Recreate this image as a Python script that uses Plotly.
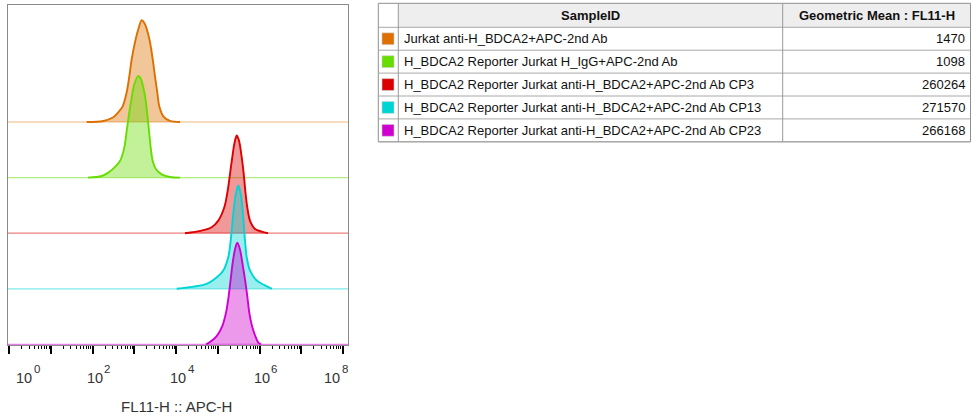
import plotly.graph_objects as go

# ---------------- data ----------------
sample_ids = [
    "Jurkat anti-H_BDCA2+APC-2nd Ab",
    "H_BDCA2 Reporter Jurkat H_IgG+APC-2nd Ab",
    "H_BDCA2 Reporter Jurkat anti-H_BDCA2+APC-2nd Ab CP3",
    "H_BDCA2 Reporter Jurkat anti-H_BDCA2+APC-2nd Ab CP13",
    "H_BDCA2 Reporter Jurkat anti-H_BDCA2+APC-2nd Ab CP23",
]
geo_means = [1470, 1098, 260264, 271570, 266168]
colors = ["#DD7000", "#66DD00", "#DD0000", "#00D5D5", "#D000D0"]

# histogram outlines: log10(FL11-H) and % of mode
orange_log = [1.856, 2.254, 2.494, 2.614, 2.719, 2.815, 2.878, 2.935, 3.014, 3.094, 3.175,
              3.254, 3.319, 3.374, 3.439, 3.494, 3.549, 3.597, 3.693, 3.854, 4.094]
orange_pct = [0, 1, 4.6, 9.5, 15.4, 29.2, 44.9, 61.7, 78.4, 91.2, 100,
              96.1, 88.2, 78.4, 61.7, 44.9, 29.2, 15.4, 5.6, 1, 0]

green_log = [1.887, 2.216, 2.374, 2.518, 2.655, 2.758, 2.815, 2.871, 2.935, 2.998, 3.094,
             3.158, 3.213, 3.261, 3.309, 3.350, 3.391, 3.439, 3.518, 3.655, 3.854, 4.094]
green_pct = [0, 1.6, 4.9, 9.8, 16.3, 29.5, 45.9, 62.3, 78.7, 91.8, 100,
             96.8, 88.6, 78.7, 62.3, 45.9, 29.5, 16.3, 8.2, 3.2, 0.6, 0]

red_log = [4.213, 4.614, 4.854, 5.012, 5.156, 5.237, 5.293, 5.348, 5.396, 5.453,
           5.508, 5.573, 5.621, 5.659, 5.707, 5.772, 5.892, 6.053, 6.204]
red_pct = [0, 2.6, 5.9, 12.4, 25.5, 41.9, 58.4, 74.8, 87.8, 96,
           91.1, 74.8, 58.4, 41.9, 25.5, 12.4, 4.2, 1.5, 0]

cyan_log = [4.014, 4.734, 4.933, 5.132, 5.252, 5.309, 5.348, 5.388, 5.436, 5.492,
            5.549, 5.588, 5.621, 5.652, 5.693, 5.772, 5.933, 6.132, 6.300]
cyan_pct = [0, 4.9, 9.9, 18, 31.2, 47.5, 63.9, 80.4, 93.5, 101.6,
            93.5, 80.4, 63.9, 47.5, 31.2, 18, 8.1, 3.3, 0]

magenta_log = [4.717, 4.813, 4.974, 5.108, 5.197, 5.261, 5.309, 5.357, 5.412, 5.468,
               5.532, 5.588, 5.652, 5.707, 5.755, 5.820, 5.899, 5.971, 6.036]
magenta_pct = [0, 2.3, 8.2, 18, 31.2, 47.5, 63.9, 80.3, 93.4, 100,
               93.4, 80.3, 63.9, 47.5, 31.2, 18, 8.2, 1.7, 0]

series_log = [orange_log, green_log, red_log, cyan_log, magenta_log]
series_pct = [orange_pct, green_pct, red_pct, cyan_pct, magenta_pct]

decades = [0, 1, 2, 3, 4, 5, 6, 7, 8]
labelled_decades = [0, 2, 4, 6, 8]
x_title = "FL11-H :: APC-H"
col_headers = ["SampleID", "Geometric Mean : FL11-H"]

# ---------------- layout constants ----------------
W, H = 972, 418
PL, PR, PT, PB = 8, 348, 5, 345          # plot area in pixels
ROW_STEP = 55.6                          # offset between stacked histograms
SCALE = 1.017                            # y units per % of mode
FONT = "Liberation Sans, Arial, sans-serif"


def rgba(hex_c, a):
    h = hex_c.lstrip("#")
    r, g, b = int(h[0:2], 16), int(h[2:4], 16), int(h[4:6], 16)
    return f"rgba({r},{g},{b},{a})"


def px(x):
    return (x - PL) / (PR - PL)


def py(y):
    return (PB - y) / (PB - PT)


fig = go.Figure()
n = len(series_log)
for i, (lg, pc, c) in enumerate(zip(series_log, series_pct, colors)):
    off = (n - 1 - i) * ROW_STEP
    fig.add_trace(go.Scatter(
        x=[10 ** -0.2, 10 ** 8.4], y=[off, off], mode="lines",
        line=dict(color=rgba(c, 0.5), width=1.2), hoverinfo="skip", showlegend=False))
    fig.add_trace(go.Scatter(
        x=[10 ** v for v in lg], y=[off + p * SCALE for p in pc], mode="lines",
        line=dict(color=c, width=1.9, shape="spline", smoothing=0.9),
        fill="tonexty", fillcolor=rgba(c, 0.4), name=sample_ids[i], showlegend=False))

x0_log = (PL - 9.3) / 41.7
x1_log = (PR - 9.3) / 41.7

fig.update_xaxes(
    type="log", range=[x0_log, x1_log],
    tickvals=[10 ** d for d in decades], ticktext=["" for _ in decades],
    ticks="outside", ticklen=8, tickwidth=2, tickcolor="black",
    minor=dict(ticks="outside", ticklen=3, tickwidth=1, tickcolor="black", dtick="D1"),
    showline=True, linecolor="#8a8a8a", linewidth=1, mirror=True,
    showgrid=False, zeroline=False, layer="below traces", fixedrange=True)
fig.update_yaxes(
    range=[-0.6, PB - PT - 0.6], showticklabels=False, ticks="",
    showline=True, linecolor="#8a8a8a", linewidth=1, mirror=True,
    showgrid=False, zeroline=False, fixedrange=True)

annotations = []
label_shift = {0: 5.7, 8: -19.7}
for d in labelled_decades:
    sh = label_shift.get(d, -7.0)
    annotations.append(dict(
        x=d, xref="x", y=py(377.5), yref="paper", xanchor="left", yanchor="middle",
        xshift=sh - 1, showarrow=False,
        text="10", font=dict(family=FONT, size=14.5, color="#333333")))
    annotations.append(dict(
        x=d, xref="x", y=py(369), yref="paper", xanchor="left", yanchor="middle",
        xshift=sh + 16.5, showarrow=False,
        text=str(d), font=dict(family=FONT, size=11.5, color="#333333")))
annotations.append(dict(
    x=px(176), xref="paper", y=py(406.5), yref="paper", xanchor="center", yanchor="middle",
    showarrow=False, text=x_title, font=dict(family=FONT, size=15, color="#333333")))

# ---------------- table ----------------
TL, TC, TS, TR = 378.3, 398.3, 782.7, 970.5
TT, THB = 3.3, 27.3
RH = 22.9
TB = THB + RH * n

shapes = []
shapes.append(dict(type="rect", xref="paper", yref="paper", x0=px(TC), x1=px(TR),
                   y0=py(TT), y1=py(THB), fillcolor="#EEEEEE", line=dict(width=0), layer="below"))
shapes.append(dict(type="rect", xref="paper", yref="paper", x0=px(TL), x1=px(TR),
                   y0=py(TT), y1=py(TB), line=dict(color="#8f8f8f", width=1)))
for k in range(n + 1):
    yy = THB + RH * k
    shapes.append(dict(type="line", xref="paper", yref="paper", x0=px(TL), x1=px(TR),
                       y0=py(yy), y1=py(yy), line=dict(color="#a8a8a8", width=1)))
for xx in (TC, TS):
    shapes.append(dict(type="line", xref="paper", yref="paper", x0=px(xx), x1=px(xx),
                       y0=py(TT), y1=py(TB), line=dict(color="#999999", width=1)))

annotations.append(dict(x=px((TC + TS) / 2), y=py((TT + THB) / 2), xref="paper", yref="paper",
                        text=f"<b>{col_headers[0]}</b>", showarrow=False, xanchor="center",
                        yanchor="middle", font=dict(family=FONT, size=13, color="#111111")))
annotations.append(dict(x=px((TS + TR) / 2), y=py((TT + THB) / 2), xref="paper", yref="paper",
                        text=f"<b>{col_headers[1]}</b>", showarrow=False, xanchor="center",
                        yanchor="middle", font=dict(family=FONT, size=13, color="#111111")))

for k, (sid, gm, c) in enumerate(zip(sample_ids, geo_means, colors)):
    yc = THB + RH * (k + 0.5)
    shapes.append(dict(type="rect", xref="paper", yref="paper", x0=px(382), x1=px(394),
                       y0=py(yc - 5.9), y1=py(yc + 5.9), fillcolor=c,
                       line=dict(color="#cfcfcf", width=0.6)))
    annotations.append(dict(x=px(402), y=py(yc), xref="paper", yref="paper", text=sid,
                            showarrow=False, xanchor="left", yanchor="middle",
                            font=dict(family=FONT, size=13, color="#111111")))
    annotations.append(dict(x=px(967), y=py(yc), xref="paper", yref="paper", text=str(gm),
                            showarrow=False, xanchor="right", yanchor="middle",
                            font=dict(family=FONT, size=13, color="#111111")))

fig.update_layout(
    width=W, height=H,
    margin=dict(l=PL, r=W - PR, t=PT, b=H - PB, pad=0),
    paper_bgcolor="white", plot_bgcolor="white",
    shapes=shapes, annotations=annotations, showlegend=False,
    font=dict(family=FONT))

fig.write_html(
    "out.html",
    config={"displayModeBar": False},
    post_script="document.body.style.margin='0';document.body.style.overflow='hidden';")
